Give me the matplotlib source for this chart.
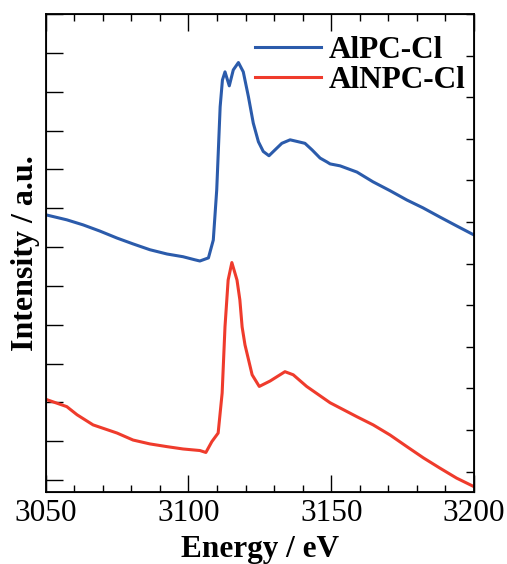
import matplotlib
matplotlib.use('Agg')
import matplotlib.pyplot as plt
from matplotlib.ticker import MultipleLocator, NullFormatter

plt.rcParams['font.family'] = ['Liberation Serif', 'DejaVu Serif']
plt.rcParams['mathtext.fontset'] = 'stix'

# Al K-edge spectra (energy in eV, intensity in arbitrary units, offset)
energy_alpc = [3050.0, 3057.4, 3063.1, 3069.0, 3075.0, 3080.6, 3086.5, 3092.5,
               3098.1, 3102.3, 3104.0, 3107.0, 3108.7, 3109.9, 3111.1, 3111.9,
               3112.8, 3114.3, 3115.7, 3117.5, 3119.2, 3121.0, 3122.7, 3124.5,
               3126.2, 3128.2, 3130.3, 3132.7, 3135.6, 3138.5, 3140.8, 3143.3,
               3146.1, 3148.5, 3149.6, 3153.1, 3159.0, 3164.6, 3170.6, 3176.5,
               3182.1, 3188.1, 3194.0, 3200.0]
intensity_alpc = [6.83, 6.70, 6.57, 6.41, 6.23, 6.08, 5.93, 5.82,
                  5.75, 5.67, 5.64, 5.72, 6.18, 7.47, 9.61, 10.30,
                  10.51, 10.15, 10.56, 10.75, 10.51, 9.87, 9.19, 8.71,
                  8.46, 8.35, 8.50, 8.67, 8.76, 8.71, 8.67, 8.50,
                  8.29, 8.19, 8.14, 8.09, 7.93, 7.68, 7.45, 7.21,
                  7.01, 6.77, 6.54, 6.31]

energy_alnpc = [3050.0, 3057.4, 3061.0, 3066.6, 3075.0, 3080.6, 3086.5, 3092.5,
                3098.1, 3104.0, 3106.1, 3108.2, 3110.4, 3111.8, 3112.8, 3113.9,
                3115.2, 3117.0, 3118.0, 3118.8, 3119.8, 3122.3, 3124.8, 3128.6,
                3133.8, 3136.7, 3141.4, 3149.6, 3153.0, 3159.0, 3164.7, 3170.6,
                3176.5, 3182.3, 3188.0, 3193.9, 3200.0]
intensity_alnpc = [2.08, 1.89, 1.68, 1.42, 1.21, 1.03, 0.93, 0.86,
                   0.80, 0.76, 0.71, 0.99, 1.21, 2.24, 3.95, 5.15,
                   5.60, 5.15, 4.64, 3.94, 3.48, 2.71, 2.41, 2.55,
                   2.79, 2.71, 2.41, 1.99, 1.86, 1.63, 1.42, 1.16,
                   0.86, 0.57, 0.31, 0.05, -0.17]

labels = ['AlPC-Cl', 'AlNPC-Cl']
colors = ['#2b5bab', '#ef3b2c']

fig = plt.figure(figsize=(5.07, 5.64), dpi=100)
ax = fig.add_axes([0.0901, 0.1282, 0.8448, 0.8470])

ax.plot(energy_alpc, intensity_alpc, color=colors[0], lw=2.2, label=labels[0])
ax.plot(energy_alnpc, intensity_alnpc, color=colors[1], lw=2.2, label=labels[1])

ax.set_xlim(3050, 3200)
ax.set_ylim(-0.3, 12)
ax.xaxis.set_major_locator(MultipleLocator(50))
ax.xaxis.set_minor_locator(MultipleLocator(10))
ax.set_yticks(range(13))
ax.yaxis.set_major_formatter(NullFormatter())
ax.tick_params(axis='x', which='major', direction='in', length=12, width=1,
               top=True, labelsize=22.5, pad=5)
ax.tick_params(axis='x', which='minor', direction='in', length=5, width=1, top=True)
ax.tick_params(axis='y', which='both', direction='in', length=12, width=1,
               left=True, right=False)
for sp in ax.spines.values():
    sp.set_linewidth(1.3)

# right-hand scale with its own tick spacing
ax2 = ax.twinx()
ax2.set_ylim(-0.48, 11)
ax2.set_yticks(range(12))
ax2.yaxis.set_major_formatter(NullFormatter())
ax2.tick_params(axis='y', which='both', direction='in', length=6, width=1,
                left=False, right=True)

ax.set_xlabel('Energy / eV', fontsize=22.5, fontweight='bold')
ax.xaxis.set_label_coords(0.5, -0.090)
ax.set_ylabel('Intensity / a.u.', fontsize=23, fontweight='bold', labelpad=0.5)

ax.legend(loc='upper left', bbox_to_anchor=(255 / 507, 1 - 36 / 564),
          bbox_transform=fig.transFigure, frameon=False, borderpad=0,
          borderaxespad=0, handlelength=2.1, handletextpad=0.25,
          labelspacing=0.02, prop={'size': 22.5, 'weight': 'bold'})

fig.savefig('out.png', dpi=100)
